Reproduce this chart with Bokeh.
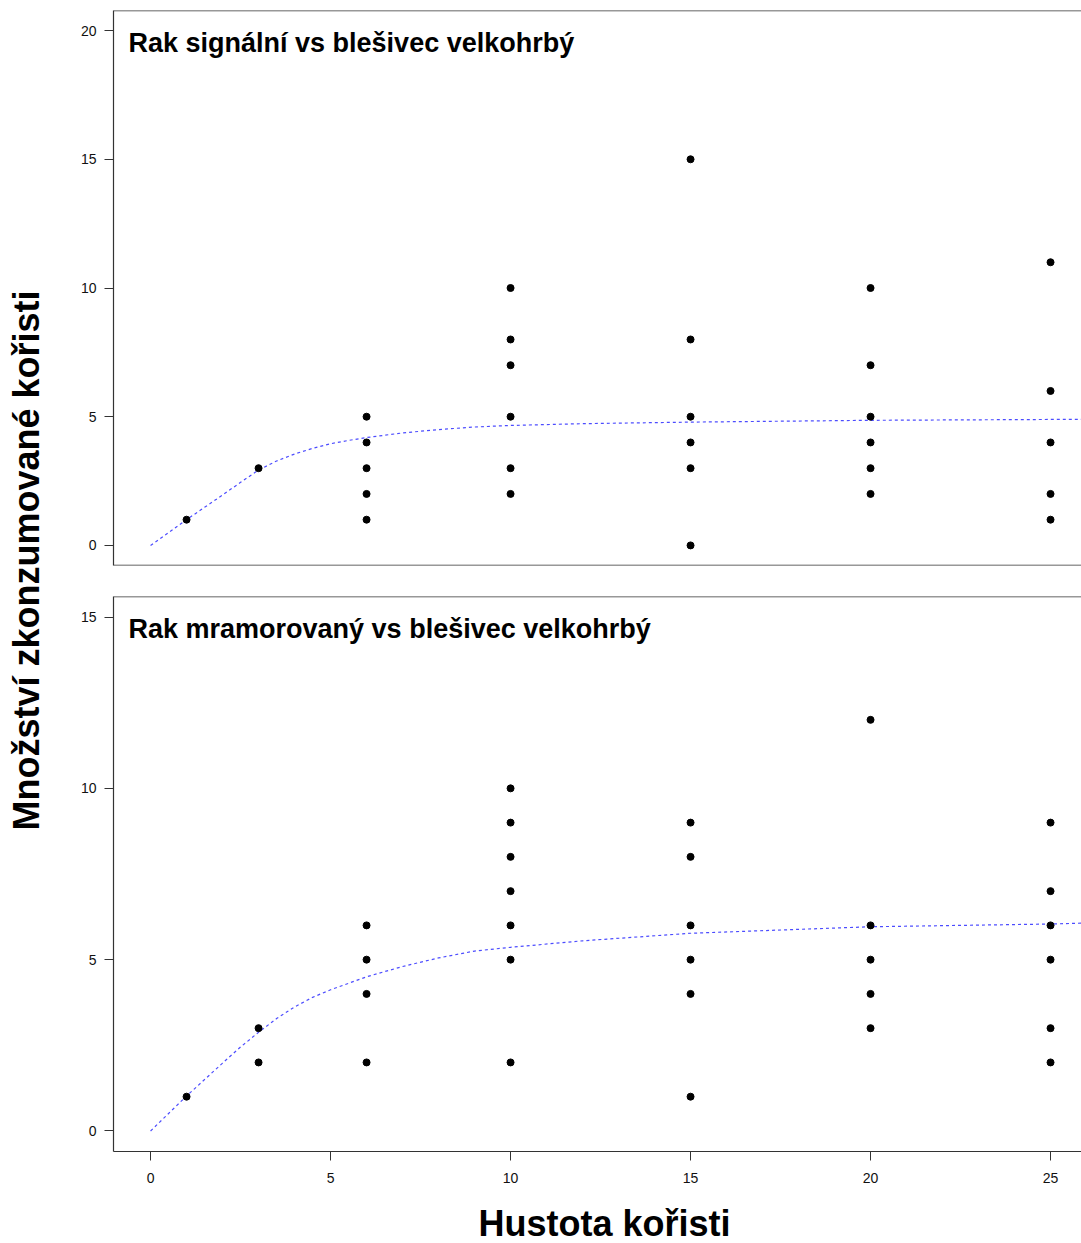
from math import pi
from bokeh.plotting import figure
from bokeh.models import Range1d, Span, Label, FixedTicker
from bokeh.layouts import row, column
from bokeh.embed import file_html
from bokeh.resources import INLINE

FONT = "Liberation Sans"

# ---------------- data ----------------
title_top = "Rak signální vs blešivec velkohrbý"
title_bottom = "Rak mramorovaný vs blešivec velkohrbý"
x_label = "Hustota kořisti"
y_label = "Množství zkonzumované kořisti"

x_ticks = [0, 5, 10, 15, 20, 25]
y_ticks_top = [0, 5, 10, 15, 20]
y_ticks_bottom = [0, 5, 10, 15]

# observed points, panel 1 (Rak signální)
density_top = [1, 3, 6, 6, 6, 6, 6, 10, 10, 10, 10, 10, 10,
               15, 15, 15, 15, 15, 15, 20, 20, 20, 20, 20, 20,
               25, 25, 25, 25, 25]
eaten_top = [1, 3, 5, 4, 3, 2, 1, 10, 8, 7, 5, 3, 2,
             15, 8, 5, 4, 3, 0, 10, 7, 5, 4, 3, 2,
             11, 6, 4, 2, 1]

# observed points, panel 2 (Rak mramorovaný)
density_bottom = [1, 3, 3, 6, 6, 6, 6, 10, 10, 10, 10, 10, 10, 10,
                  15, 15, 15, 15, 15, 15, 20, 20, 20, 20, 20,
                  25, 25, 25, 25, 25, 25]
eaten_bottom = [1, 3, 2, 6, 5, 4, 2, 10, 9, 8, 7, 6, 5, 2,
                9, 8, 6, 5, 4, 1, 12, 6, 5, 4, 3,
                9, 7, 6, 5, 3, 2]

# fitted functional response curves
curve_x_top = [0, 0.5, 1, 1.5, 2, 2.5, 3, 3.5, 4, 4.5, 5, 5.5, 6, 7, 8, 9, 10, 12, 15, 20, 26]
curve_y_top = [0, 0.5, 1.0, 1.48, 1.96, 2.45, 2.93, 3.28, 3.55, 3.77, 3.95, 4.08, 4.19,
               4.37, 4.5, 4.6, 4.66, 4.73, 4.79, 4.86, 4.9]

curve_x_bottom = [0, 0.5, 1, 1.5, 2, 2.5, 3, 3.5, 4, 4.5, 5, 6, 7, 8, 9, 10, 12, 15, 20, 25, 26]
curve_y_bottom = [0, 0.51, 1.02, 1.5, 1.98, 2.45, 2.88, 3.28, 3.62, 3.9, 4.12, 4.5, 4.8,
                  5.05, 5.25, 5.36, 5.55, 5.77, 5.96, 6.04, 6.07]

# ---------------- layout constants ----------------
FRAME_W = 968
FRAME_H = 555
LEFT_W = 58
BORDER_L = 55
AX_COL = "#333333"
X_START, X_END = -1.03, 25.86
P2_BOTTOM = 40
XLAB_H = 52


def make_panel(xs, ys, cx, cy, yr, yticks, title, bottom_axis, mb_top, mb_bottom):
    p = figure(width=BORDER_L + FRAME_W, height=mb_top + FRAME_H + mb_bottom,
               x_range=Range1d(X_START, X_END), y_range=Range1d(*yr),
               output_backend="svg", toolbar_location=None,
               x_axis_location="below" if bottom_axis else None,
               min_border_left=BORDER_L, min_border_right=0,
               min_border_top=mb_top, min_border_bottom=mb_bottom)
    p.grid.visible = False
    p.outline_line_color = None
    p.background_fill_color = "white"
    p.border_fill_color = "white"

    ya = p.yaxis[0]
    ya.ticker = FixedTicker(ticks=yticks)
    ya.minor_tick_line_color = None
    ya.major_tick_out = 9
    ya.major_tick_in = 0
    ya.axis_line_color = AX_COL
    ya.axis_line_width = 1.2
    ya.major_tick_line_color = AX_COL
    ya.major_label_text_font = FONT
    ya.major_label_text_font_size = "14px"
    ya.major_label_text_color = "#111111"
    ya.major_label_standoff = 8

    if bottom_axis:
        xa = p.xaxis[0]
        xa.ticker = FixedTicker(ticks=x_ticks)
        xa.minor_tick_line_color = None
        xa.major_tick_in = 0
        xa.major_tick_out = 9
        xa.axis_line_color = AX_COL
        xa.axis_line_width = 1.2
        xa.major_tick_line_color = AX_COL
        xa.major_label_text_font = FONT
        xa.major_label_text_font_size = "14px"
        xa.major_label_text_color = "#111111"
        xa.major_label_standoff = 12
    else:
        p.add_layout(Span(location=yr[0], dimension="width",
                          line_color=AX_COL, line_width=1.5))

    p.add_layout(Span(location=yr[1], dimension="width",
                      line_color=AX_COL, line_width=1.5))

    p.line(cx, cy, line_color="blue", line_alpha=0.7, line_width=1.2,
           line_dash="3 3")
    p.scatter(xs, ys, size=7, color="black")

    p.add_layout(Label(x=X_START, y=yr[1], x_offset=15, y_offset=-32,
                       text=title, text_font=FONT, text_font_size="27px",
                       text_font_style="bold", text_color="black",
                       text_baseline="alphabetic", text_align="left"))
    return p


p1 = make_panel(density_top, eaten_top, curve_x_top, curve_y_top,
                (-0.78, 20.78), y_ticks_top, title_top, False, 10, 15)
p2 = make_panel(density_bottom, eaten_bottom, curve_x_bottom, curve_y_bottom,
                (-0.6, 15.6), y_ticks_bottom, title_bottom, True, 16, P2_BOTTOM)

# strip below the lower panel holding the x axis title (frame aligned with panels)
xfig = figure(width=BORDER_L + FRAME_W, height=XLAB_H, x_range=Range1d(0, FRAME_W),
              y_range=Range1d(0, XLAB_H), output_backend="svg",
              toolbar_location=None, x_axis_location=None, y_axis_location=None,
              min_border_left=BORDER_L, min_border_right=0,
              min_border_top=0, min_border_bottom=0)
xfig.grid.visible = False
xfig.outline_line_color = None
xfig.add_layout(Label(x=365, y=20, text=x_label, text_font=FONT,
                      text_font_size="36px", text_font_style="bold",
                      text_color="black", text_align="left",
                      text_baseline="alphabetic"))

total_h = (10 + FRAME_H + 15) + (16 + FRAME_H + P2_BOTTOM) + XLAB_H
lab = figure(width=LEFT_W, height=total_h, x_range=Range1d(0, LEFT_W),
             y_range=Range1d(0, total_h), output_backend="svg",
             toolbar_location=None, x_axis_location=None, y_axis_location=None,
             min_border=0)
lab.grid.visible = False
lab.outline_line_color = None
lab.add_layout(Label(x=25.5, y=total_h - 560, text=y_label, angle=pi / 2,
                     text_font=FONT, text_font_size="36px", text_font_style="bold",
                     text_color="black", text_align="center",
                     text_baseline="alphabetic"))

layout = row(lab, column(p1, p2, xfig, spacing=0), spacing=0)

open("out.html", "w").write(file_html(layout, INLINE))
